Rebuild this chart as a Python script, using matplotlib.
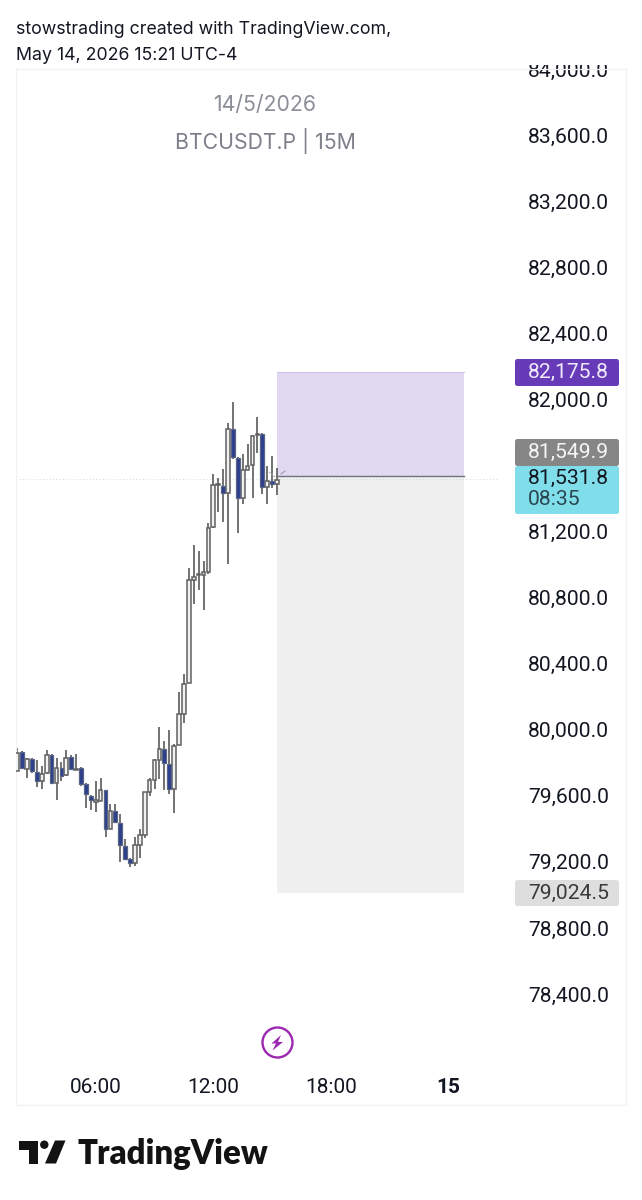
import matplotlib
matplotlib.use('Agg')
import matplotlib.pyplot as plt
import numpy as np
from matplotlib.patches import Rectangle, Polygon, Circle, FancyBboxPatch

plt.rcParams['font.family'] = ['Inter', 'DejaVu Sans']

# candles, 15 minute bars starting at 02:00
opens = [79762, 79877, 79776, 79833, 79758, 79702, 79748, 79857, 79692, 79782,
         79736, 79847, 79766, 79778, 79682, 79613, 79577, 79581, 79645, 79413,
         79520, 79450, 79308, 79228, 79207, 79314, 79373, 79635, 79708, 79827,
         79893, 79807, 79651, 79918, 80109, 80293, 80919, 80947, 80949, 80969,
         81239, 81492, 81488, 81447, 81831, 81659, 81417, 81585, 81615, 81795,
         81805, 81481, 81518, 81498]
highs = [79900, 79883, 79843, 79839, 79827, 79793, 79887, 79863, 79839, 79819,
         79889, 79857, 79863, 79787, 79692, 79617, 79702, 79718, 79645, 79561,
         79561, 79504, 79349, 79234, 79363, 79409, 79637, 79718, 79833, 80031,
         79944, 80008, 79928, 80242, 80347, 80993, 81129, 81094, 81034, 81262,
         81558, 81538, 81589, 81867, 81996, 81663, 81679, 81740, 81796, 81905,
         81811, 81609, 81669, 81595]
lows = [79762, 79772, 79718, 79752, 79667, 79651, 79746, 79690, 79587, 79702,
        79732, 79766, 79766, 79672, 79536, 79524, 79516, 79581, 79363, 79409,
        79450, 79213, 79221, 79183, 79187, 79234, 79359, 79611, 79651, 79712,
        79645, 79621, 79510, 79918, 80055, 80293, 80771, 80856, 80735, 80957,
        81235, 81332, 81272, 81013, 81649, 81205, 81377, 81585, 81417, 81690,
        81437, 81381, 81478, 81433]
closes = [79873, 79778, 79833, 79762, 79702, 79742, 79857, 79690, 79782, 79732,
          79843, 79772, 79772, 79682, 79621, 79587, 79585, 79645, 79413, 79520,
          79454, 79312, 79228, 79207, 79314, 79373, 79635, 79708, 79827, 79897,
          79813, 79651, 79914, 80105, 80287, 80921, 80937, 80953, 80969, 81235,
          81494, 81498, 81447, 81831, 81663, 81417, 81583, 81609, 81790, 81805,
          81481, 81518, 81498, 81522]
start_hour = 2.0
bar_hours = 0.25

# position tool
entry = 81549.9
target = 82175.8
stop = 79024.5
last_price = 81531.8
pos_start = 15.25
pos_end = 24.8

y_ticks = list(range(78400, 84001, 400))
hidden_tick = 81600  # sits behind the price tags
x_ticks = [6, 12, 18, 24]
x_labels = ['06:00', '12:00', '18:00', '15']

UP_FILL = '#f1f1f1'
DOWN_FILL = '#2b3f8c'
EDGE = '#606060'
NUM_FONT = ['Roboto', 'DejaVu Sans']

W, H = 642, 1200
fig = plt.figure(figsize=(W / 100, H / 100), dpi=100, facecolor='white')

# main pane, 16..626 px wide and 69..1105 px tall
ax = fig.add_axes([15.5 / W, 1 - 1105 / H, (626 - 15.5) / W, (1105 - 69) / H])
ax.set_xlim(1.908, 33.056)
ax.set_ylim(77740, 84012)
for s in ax.spines.values():
    s.set_color('#f1f1f1')
    s.set_linewidth(0.9)

# position boxes
ax.fill_between([pos_start, pos_end], entry, target, color='#e1d8f2', lw=0, zorder=1)
ax.plot([pos_start, pos_end], [target, target], color='#cfc2e8', lw=0.8, zorder=1.5)
ax.fill_between([pos_start, pos_end], stop, entry, color='#f0f0f0', lw=0, zorder=1)
ax.plot([pos_start, pos_end], [entry, entry], color='#70727c', lw=1.0, zorder=1.5)
ax.plot([1.908, 26.6], [last_price, last_price], color='#c9c9c9', lw=0.6, ls=(0, (1, 3)), zorder=1.2)

# candles
o = np.array(opens)
c = np.array(closes)
t = start_hour + np.arange(len(o)) * bar_hours
ax.vlines(t, lows, highs, color=EDGE, lw=1.25, zorder=2)
up = c >= o
ax.bar(t[up], (c - o)[up], bottom=o[up], width=0.19, color=UP_FILL, edgecolor=EDGE, linewidth=1.1, zorder=3)
ax.bar(t[~up], (o - c)[~up], bottom=c[~up], width=0.19, color=DOWN_FILL, edgecolor='#5a6484', linewidth=0.9, zorder=3)

ax.yaxis.tick_right()
ax.set_yticks(y_ticks)
ax.set_yticklabels(['' if v == hidden_tick else f'{v:,.1f}' for v in y_ticks], ha='right', va='center', family=NUM_FONT)
ax.tick_params(axis='y', length=0, pad=-12.2, labelsize=15.2, labelcolor='#131722')
ax.set_xticks(x_ticks)
ax.set_xticklabels(x_labels, family=NUM_FONT)
ax.tick_params(axis='x', length=0, pad=-19.4, labelsize=15, labelcolor='#131722')
ax.get_xticklabels()[-1].set_fontweight('bold')

# everything outside the data scale, in pixel coordinates
ov = fig.add_axes([0, 0, 1, 1], facecolor='none')
ov.set_xlim(0, W)
ov.set_ylim(H, 0)
ov.axis('off')

# top tick label is cut by the pane edge
ov.add_patch(Rectangle((500, 40), 125, 25, color='white', lw=0, zorder=1))

ov.text(16, 29, 'stowstrading created with TradingView.com,', fontsize=12.8, color='#131722', va='center', zorder=2)
ov.text(16, 55, 'May 14, 2026 15:21 UTC-4', fontsize=12.8, color='#131722', va='center', zorder=2)
ov.text(265, 105, '14/5/2026', fontsize=15.3, color='#8b8e97', ha='center', va='center')
ov.text(265, 141, 'BTCUSDT.P | 15M', fontsize=15.3, color='#7d808a', ha='center', va='center')

def tag(y0, y1, color, lines):
    ov.add_patch(FancyBboxPatch((515, y0), 104, y1 - y0, boxstyle='round,pad=0,rounding_size=2.5',
                                facecolor=color, edgecolor='none', zorder=3))
    for yy, txt, col in lines:
        ov.text(528, yy, txt, fontsize=15.2, color=col, ha='left', va='center', zorder=4, family=NUM_FONT)

tag(359, 386, '#673ab7', [(372.5, f'{target:,.1f}', '#f0e9fb')])
tag(439, 466, '#868686', [(452.5, f'{entry:,.1f}', '#f5f5f5')])
tag(466, 514, '#80deea', [(478.5, f'{last_price:,.1f}', '#131722'), (499.5, '08:35', '#2b4650')])
tag(880, 906, '#dedede', [(893, f'{stop:,.1f}', '#3a3a3a')])

# small arrow marks next to last bar
ov.plot([281, 285], [474, 471], color='#9a9ca3', lw=0.8)
ov.plot([269, 275], [472, 477], color='#a5a5a5', lw=0.7, ls=(0, (2, 1)))

# lightning icon
ov.add_patch(Circle((277.5, 1042.5), 15, fill=False, ec='#9c27b0', lw=1.7))
ov.add_patch(Polygon([(281, 1035), (271.5, 1043.5), (276, 1043.5), (272.5, 1050.5), (283, 1042), (278, 1042)],
                     closed=True, fc='#9c27b0', ec='none'))

# logo
LOGO = '#131313'
ov.add_patch(Polygon([(19, 1140.5), (37.5, 1140.5), (37.5, 1163.5), (28.5, 1163.5), (28.5, 1150), (19, 1150)],
                     closed=True, fc=LOGO, ec='none'))
ov.add_patch(Circle((44.3, 1144.7), 4.2, fc=LOGO, ec='none'))
ov.add_patch(Polygon([(55, 1140.5), (65.5, 1140.5), (56, 1163.5), (45, 1163.5)], closed=True, fc=LOGO, ec='none'))
ov.text(77, 1163.5, 'TradingView', fontsize=23.7, fontweight='heavy', color=LOGO, va='baseline',
        family=['Lato', 'DejaVu Sans'])

fig.savefig('out.png', dpi=100)
